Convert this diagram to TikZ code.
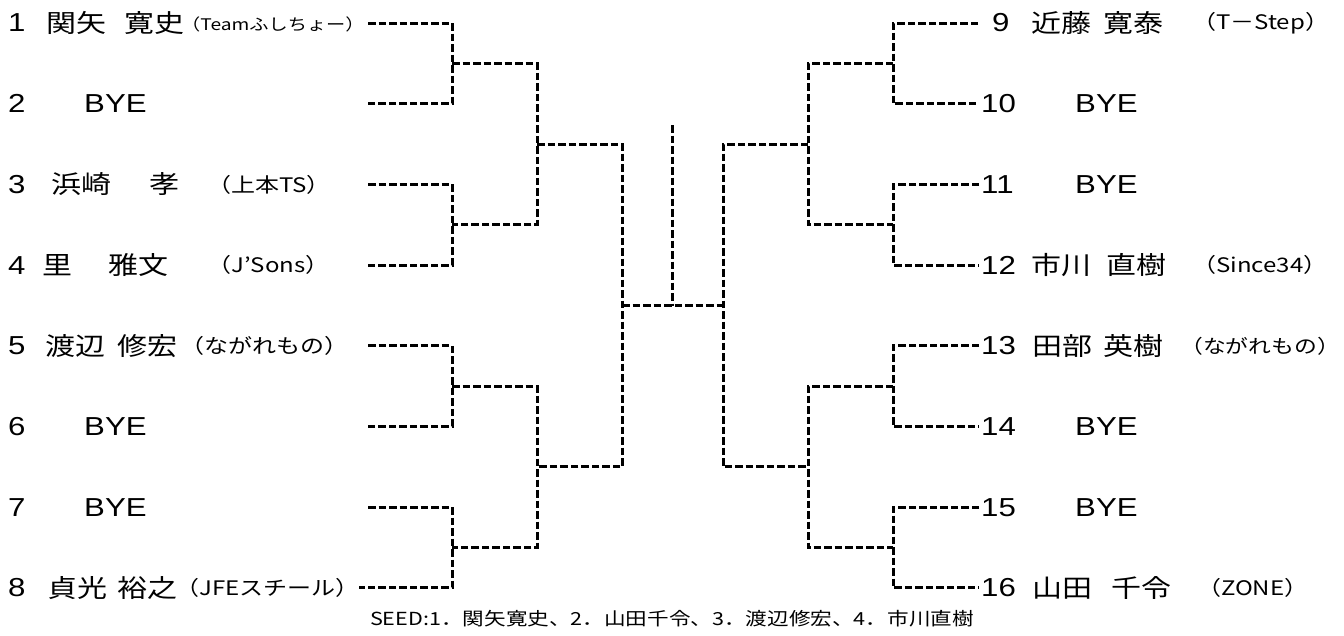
\documentclass[tikz,border=0pt]{standalone}
\usepackage{fontspec}
\setmainfont[FakeStretch=1.2]{Liberation Sans}
\newfontfamily\jp[FakeStretch=1.2]{Noto Sans CJK JP}
\begin{document}
\begin{tikzpicture}[x=1pt,y=-1pt,
  br/.style={line width=3pt, dash pattern=on 7.5pt off 3pt},
  num/.style={anchor=west, inner sep=0pt, font=\fontsize{26}{26}\selectfont},
  nm/.style={anchor=west, inner sep=0pt, font=\jp\fontsize{25}{25}\selectfont},
  tm/.style={anchor=west, inner sep=0pt, font=\jp\fontsize{20}{20}\selectfont},
  tms/.style={anchor=west, inner sep=0pt, font=\jp\fontsize{16}{16}\selectfont},
  captext/.style={inner sep=0pt, font=\jp\fontsize{18}{18}\selectfont}]
\useasboundingbox (0,0) rectangle (1344,635);
% ---- left players ----
\node[num] (n1) at (8,23) {1};
\node[nm] (m1a) at (46,23) {関矢};
\node[nm] (m1b) at (124,23) {寛史};
\node[tms] (t1) at (181,24) {（Teamふしちょー）};
\node[num] (n2) at (8,103.7) {2};
\node[num] (m2) at (84,103.7) {BYE};
\node[num] (n3) at (8,184.4) {3};
\node[nm] (m3a) at (51,184.4) {浜崎};
\node[nm] (m3b) at (149,184.4) {孝};
\node[tm] (t3) at (207,184.4) {（上本TS）};
\node[num] (n4) at (8,265.1) {4};
\node[nm] (m4a) at (42,265.1) {里};
\node[nm] (m4b) at (108,265.1) {雅文};
\node[tm] (t4) at (207,265.1) {（J’Sons）};
\node[num] (n5) at (8,345.8) {5};
\node[nm] (m5a) at (45,345.8) {渡辺};
\node[nm] (m5b) at (117,345.8) {修宏};
\node[tm] (t5) at (180,345.8) {（ながれもの）};
\node[num] (n6) at (8,426.5) {6};
\node[num] (m6) at (84,426.5) {BYE};
\node[num] (n7) at (8,507.2) {7};
\node[num] (m7) at (84,507.2) {BYE};
\node[num] (n8) at (8,587.9) {8};
\node[nm] (m8a) at (47,587.9) {貞光};
\node[nm] (m8b) at (117,587.9) {裕之};
\node[tm] (t8) at (175,587.9) {（JFEスチール）};
% ---- right players ----
\node[num] (n9) at (992,23) {9};
\node[nm] (m9a) at (1031,23) {近藤};
\node[nm] (m9b) at (1103,23) {寛泰};
\node[tm] (t9) at (1192,23) {（T－Step）};
\node[num] (n10) at (981,103.7) {10};
\node[num] (m10) at (1075,103.7) {BYE};
\node[num] (n11) at (981,184.4) {11};
\node[num] (m11) at (1075,184.4) {BYE};
\node[num] (n12) at (981,265.1) {12};
\node[nm] (m12a) at (1031,265.1) {市川};
\node[nm] (m12b) at (1106,265.1) {直樹};
\node[tm] (t12) at (1192,265.1) {（Since34）};
\node[num] (n13) at (981,345.8) {13};
\node[nm] (m13a) at (1032,345.8) {田部};
\node[nm] (m13b) at (1103,345.8) {英樹};
\node[tm, font=\jp\fontsize{19}{19}\selectfont] (t13) at (1180,345.8) {（ながれもの）};
\node[num] (n14) at (981,426.5) {14};
\node[num] (m14) at (1075,426.5) {BYE};
\node[num] (n15) at (981,507.2) {15};
\node[num] (m15) at (1075,507.2) {BYE};
\node[num] (n16) at (981,587.9) {16};
\node[nm] (m16a) at (1032,587.9) {山田};
\node[nm] (m16b) at (1111,587.9) {千令};
\node[tm] (t16) at (1197,587.9) {（ZONE）};
% ---- caption ----
\node[captext] (seed) at (672,619) {SEED:1．関矢寛史、2．山田千令、3．渡辺修宏、4．市川直樹};
% ---- bracket coordinates ----
\coordinate (a1) at (368,23);
\coordinate (a2) at (368,103.7);
\coordinate (a3) at (368,184.4);
\coordinate (a4) at (368,265.1);
\coordinate (a5) at (368,345.8);
\coordinate (a6) at (368,426.5);
\coordinate (a7) at (368,507.2);
\coordinate (a8) at (359,587.9);
\coordinate (p12) at (452,63.4);
\coordinate (p34) at (452,224.8);
\coordinate (p56) at (452,386.2);
\coordinate (p78) at (452,547.6);
\coordinate (q14) at (537,144.1);
\coordinate (q58) at (537,466.9);
\coordinate (rl) at (622,305.5);
\coordinate (rr) at (723,305.5);
\coordinate (ct) at (672,125);
\coordinate (cb) at (672,305.5);
\coordinate (q912) at (808,144.1);
\coordinate (q1316) at (808,466.9);
\coordinate (p910) at (893,63.4);
\coordinate (p1112) at (893,224.8);
\coordinate (p1314) at (893,386.2);
\coordinate (p1516) at (893,547.6);
\coordinate (b9) at (978,23);
\coordinate (b10) at (979,103.7);
\coordinate (b11) at (979,184.4);
\coordinate (b12) at (979,265.1);
\coordinate (b13) at (979,345.8);
\coordinate (b14) at (979,426.5);
\coordinate (b15) at (979,507.2);
\coordinate (b16) at (979,587.9);
% ---- left bracket ----
\draw[br] (a1) -| (p12) |- (a2);
\draw[br] (a3) -| (p34) |- (a4);
\draw[br] (a5) -| (p56) |- (a6);
\draw[br] (a7) -| (p78) |- (a8);
\draw[br] (p12) -| (q14) |- (p34);
\draw[br] (p56) -| (q58) |- (p78);
\draw[br] (q14) -| (rl) |- (q58);
% ---- final ----
\draw[br] (rl) -- (rr);
\draw[br] (ct) -- (cb);
% ---- right bracket ----
\draw[br] (q912) -| (rr) |- (q1316);
\draw[br] (p910) -| (q912) |- (p1112);
\draw[br] (p1314) -| (q1316) |- (p1516);
\draw[br] (b9) -| (p910) |- (b10);
\draw[br] (b11) -| (p1112) |- (b12);
\draw[br] (b13) -| (p1314) |- (b14);
\draw[br] (b15) -| (p1516) |- (b16);
\end{tikzpicture}
\end{document}
